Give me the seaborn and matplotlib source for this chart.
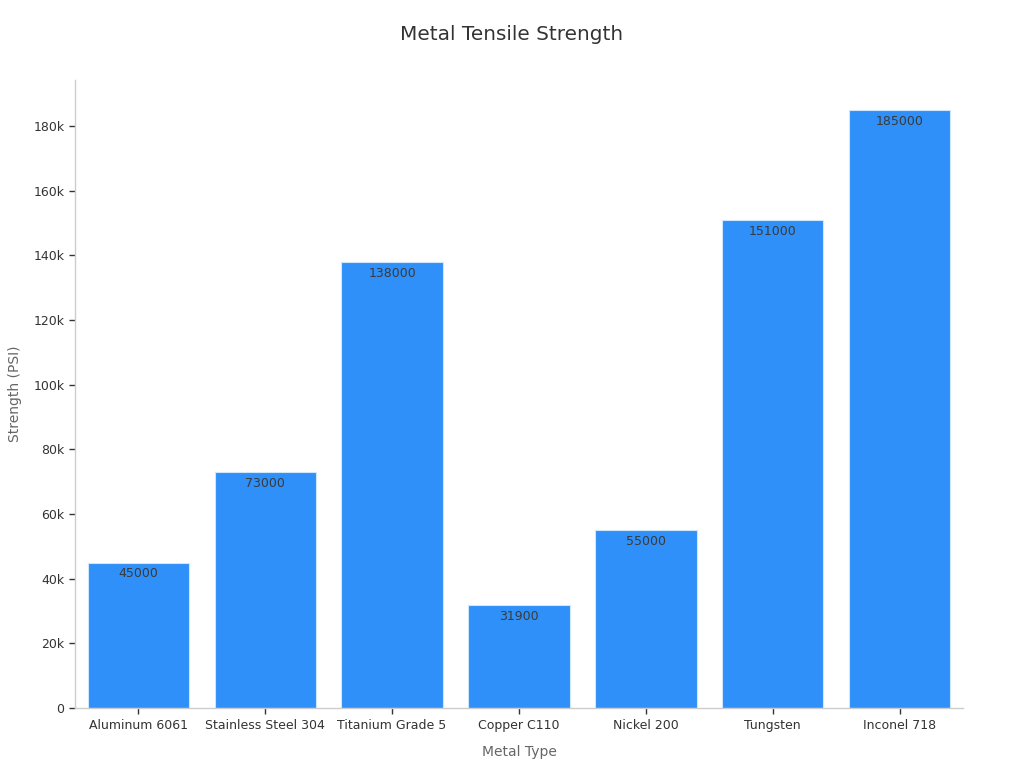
import matplotlib
matplotlib.use("Agg")
import matplotlib.pyplot as plt
import seaborn as sns
import pandas as pd
from matplotlib.ticker import FuncFormatter

metals = ["Aluminum 6061", "Stainless Steel 304", "Titanium Grade 5", "Copper C110",
          "Nickel 200", "Tungsten", "Inconel 718"]
strength = [45000, 73000, 138000, 31900, 55000, 151000, 185000]

df = pd.DataFrame({"Metal Type": metals, "Strength (PSI)": strength})

sns.set_theme(style="white")
plt.rcParams['font.family'] = ['DejaVu Sans']

fig = plt.figure(figsize=(10.24, 7.68), dpi=100)
ax = fig.add_axes([0.0732, 0.078, 0.8672, 0.818])

sns.barplot(data=df, x="Metal Type", y="Strength (PSI)", color="#2E90F8",
            saturation=1, width=0.8, edgecolor="#cfe6ff", linewidth=0.8, ax=ax)

for p, v in zip(ax.patches, strength):
    ax.text(p.get_x() + p.get_width() / 2, v - 1500, f"{v}", ha="center", va="top",
            fontsize=9, color="#3a3a3a")

ax.set_xlim(-0.5, 6.5)
ax.set_ylim(0, 194250)
ax.set_yticks([0, 20000, 40000, 60000, 80000, 100000, 120000, 140000, 160000, 180000])
ax.yaxis.set_major_formatter(FuncFormatter(lambda v, _: "0" if v == 0 else f"{int(v/1000)}k"))

for s in ["top", "right"]:
    ax.spines[s].set_visible(False)
for s in ["left", "bottom"]:
    ax.spines[s].set_color("#cccccc")
    ax.spines[s].set_linewidth(1)

ax.tick_params(axis="both", which="both", length=4, width=1, color="#333333",
               labelsize=9, labelcolor="#333333", left=True, bottom=True)

ax.set_xlabel("Metal Type", fontsize=10, color="#666666", labelpad=10)
ax.set_ylabel("Strength (PSI)", fontsize=10, color="#666666", labelpad=8)
fig.suptitle("Metal Tensile Strength", fontsize=14.4, color="#333333", y=0.968)

fig.savefig("out.png", dpi=100)
